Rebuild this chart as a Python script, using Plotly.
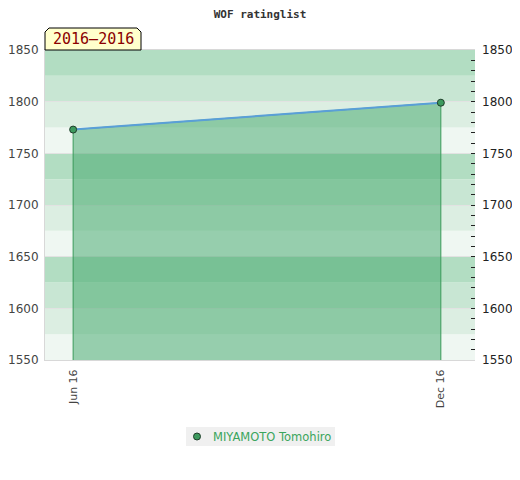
import plotly.graph_objects as go

# WOF rating history
player = "MIYAMOTO Tomohiro"
dates = ["2016-06-01", "2016-12-01"]
ratings = [1773, 1799]
tick_dates = ["2016-06-01", "2016-12-01"]
tick_labels = ["Jun 16", "Dec 16"]
period_label = "2016\u20132016"

y_min, y_max = 1550, 1850
x_range = ["2016-05-18", "2016-12-18"]

band_colors = ["#eff7f2", "#dceee2", "#c8e6d3", "#b2ddc2"]

# plot area in pixels (430 x 310)
pw, ph = 430, 310

fig = go.Figure()

# filled area under the rating line
fig.add_trace(go.Scatter(
    x=[dates[0]] + dates + [dates[-1]],
    y=[y_min] + ratings + [y_min],
    fill="toself", fillcolor="rgba(62,166,104,0.5)",
    mode="lines", line=dict(color="#3a9a5a", width=1),
    hoverinfo="skip", showlegend=False,
))
fig.add_trace(go.Scatter(
    x=dates, y=ratings, mode="lines",
    line=dict(color="#5a9fd8", width=2),
    hoverinfo="skip", showlegend=False,
))
fig.add_trace(go.Scatter(
    x=dates, y=ratings, mode="markers", name=player, showlegend=False,
    marker=dict(color="#3d9a5e", size=7, line=dict(color="#1f3d2a", width=1)),
))
# invisible trace for right axis
fig.add_trace(go.Scatter(x=dates, y=ratings, yaxis="y2", mode="markers",
                         marker=dict(opacity=0), hoverinfo="skip", showlegend=False))

# background bands every 25 points
shapes = []
v = y_min
i = 0
while v < y_max:
    shapes.append(dict(type="rect", xref="paper", yref="y", x0=0, x1=1, y0=v, y1=v + 25,
                       fillcolor=band_colors[i % 4], line=dict(width=0), layer="below"))
    v += 25
    i += 1

# period tag with clipped corners
w = 96 / pw
h = 22 / ph
cx = 4 / pw
cy = 4 / ph
shapes.append(dict(
    type="path", xref="paper", yref="paper",
    path=f"M 0 1 L 0 {1 + h - cy} L {cx} {1 + h} L {w - cx} {1 + h} L {w} {1 + h - cy} L {w} 1 Z",
    fillcolor="#ffffcc", line=dict(color="#000000", width=1),
))

# hand-drawn legend box below the plot
shapes.append(dict(type="rect", xref="paper", yref="paper",
                   x0=141 / pw, x1=290 / pw, y0=-86 / ph, y1=-67 / ph,
                   fillcolor="#f0f0f0", line=dict(width=0)))
shapes.append(dict(type="circle", xref="paper", yref="paper",
                   xsizemode="pixel", ysizemode="pixel",
                   xanchor=152 / pw, yanchor=-76.5 / ph,
                   x0=-3.5, x1=3.5, y0=-3.5, y1=3.5,
                   fillcolor="#3d9a5e", line=dict(color="#1f3d2a", width=1)))
fig.update_layout(shapes=shapes)

fig.add_annotation(x=166 / pw, y=-76.5 / ph, xref="paper", yref="paper", text=player,
                   xanchor="left", yanchor="middle", showarrow=False,
                   font=dict(family="DejaVu Sans", size=11.5, color="#3aa55c"))

fig.add_annotation(x=w / 2, y=1 + h / 2, xref="paper", yref="paper", text=period_label,
                   xanchor="center", yanchor="middle", showarrow=False,
                   font=dict(family="DejaVu Sans Mono", size=15, color="#8b0000"))

# page body has an 8px margin, so the figure is offset by 8px
fig.update_layout(
    width=520, height=480,
    margin=dict(l=37, r=53, t=42, b=128),
    paper_bgcolor="white", plot_bgcolor="white",
    showlegend=False,
    title=dict(text="<b>WOF ratinglist</b>", x=0.5, xref="paper", y=0.995, xanchor="center",
               yanchor="top", automargin=False,
               font=dict(family="DejaVu Sans Mono", size=11, color="#333")),
    font=dict(family="DejaVu Sans", size=12, color="#444"),
    xaxis=dict(type="date", range=x_range, tickvals=tick_dates, ticktext=tick_labels,
               tickangle=-90, showgrid=False, zeroline=False, ticks="", automargin=False,
               showline=True, linecolor="#d8d8d8", mirror=True, ticklabelstandoff=4,
               tickfont=dict(size=11, color="#444")),
    yaxis=dict(range=[y_min, y_max], dtick=50, showgrid=True, gridcolor="#e2e2e2",
               gridwidth=1, zeroline=False, ticks="", showline=True, linecolor="#d8d8d8",
               automargin=False,
               tickfont=dict(size=12, color="#444"), ticklabelstandoff=3),
    yaxis2=dict(range=[y_min, y_max], overlaying="y", side="right", dtick=50,
                showgrid=False, zeroline=False, ticks="inside", ticklen=4, tickcolor="#222",
                minor=dict(dtick=10, ticks="inside", ticklen=4, tickcolor="#222"),
                automargin=False,
                tickfont=dict(size=12, color="#222"), ticklabelstandoff=6, showline=False),
)

fig.write_html("out.html")
